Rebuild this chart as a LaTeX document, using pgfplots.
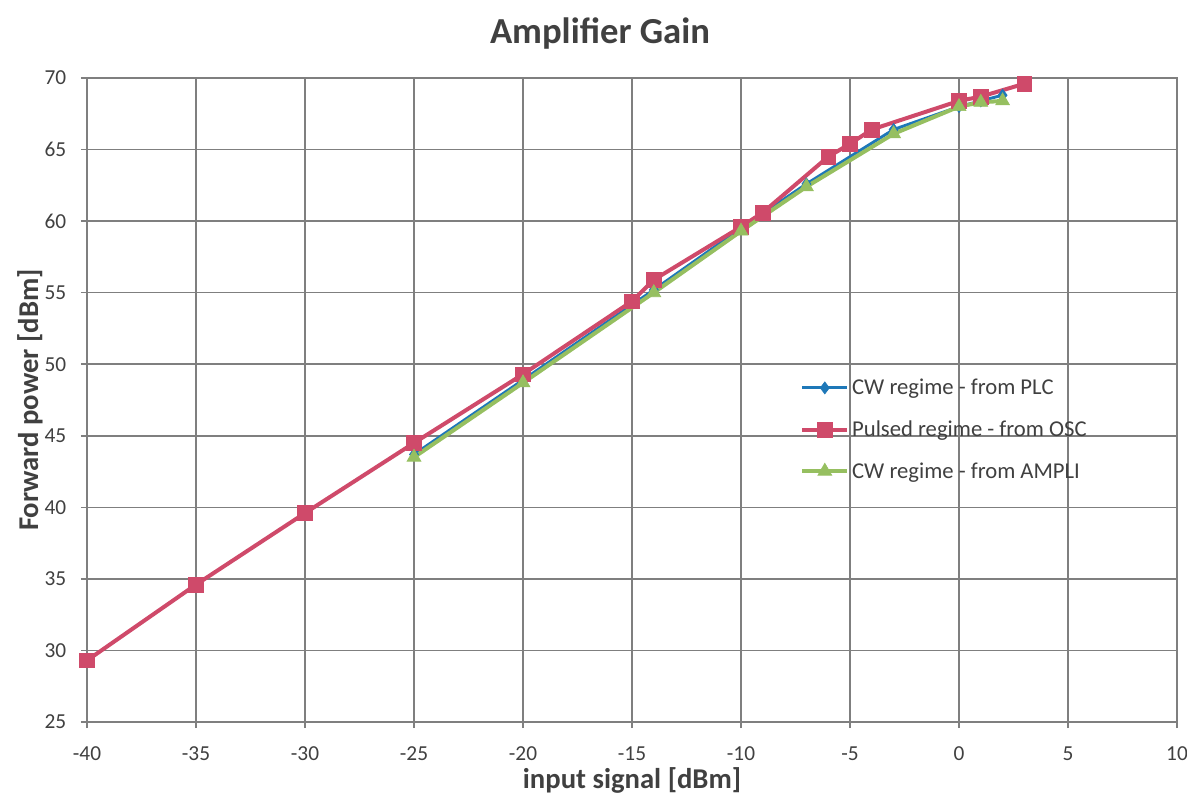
\documentclass[border=0pt]{standalone}
\usepackage{pgfplots}
\pgfplotsset{compat=1.18}
\usepackage{fontspec}
\setmainfont{Carlito}
\definecolor{cwblue}{HTML}{1E78B8}
\definecolor{pulred}{HTML}{CF4A6A}
\definecolor{ampgreen}{HTML}{96BF60}
\definecolor{txtgray}{HTML}{404040}
\definecolor{gridgray}{HTML}{7F7F7F}
\begin{document}
\begin{tikzpicture}
\useasboundingbox (-65.25pt,-55.5pt) rectangle (825pt,541.5pt);
\begin{axis}[
  at={(0,0)}, anchor=south west,
  scale only axis, width=817.5pt, height=483pt,
  xmin=-40, xmax=10, ymin=25, ymax=70,
  xtick={-40,-35,...,10}, ytick={25,30,...,70},
  grid=major,
  major grid style={gridgray, line width=1.1pt},
  axis line style={gridgray, line width=1.1pt},
  tick align=outside, major tick length=4.5pt,
  tick style={gridgray, line width=1.1pt},
  xtick pos=bottom, ytick pos=left,
  /pgf/number format/assume math mode=true,
  tick label style={font=\fontsize{16}{18}\selectfont, text=txtgray},
  xticklabel style={anchor=center, yshift=-19.5pt},
  yticklabel style={anchor=east, xshift=-7.5pt},
  xlabel={input signal [dBm]},
  ylabel={Forward power [dBm]},
  label style={font=\fontsize{21.5}{24}\selectfont\bfseries, text=txtgray, inner sep=0pt},
  xlabel style={at={(rel axis cs:0.5,0)}, anchor=center, yshift=-44pt},
  ylabel style={at={(rel axis cs:0,0.5)}, anchor=center, yshift=42.75pt},
  legend style={draw=none, fill=none, at={(rel axis cs:0.654,0.537)}, anchor=north west,
    font=\fontsize{17}{20}\selectfont, text=txtgray, row sep=14pt, inner sep=0pt,
    /tikz/every even column/.append style={column sep=0pt}},
  legend cell align=left,
  legend image code/.code={
    \draw[#1] (0pt,0pt) -- (34pt,0pt);
    \draw[#1, mark repeat=2, mark phase=2] plot coordinates {(0pt,0pt) (17pt,0pt) (34pt,0pt)};
  },
  clip=false,
]
\addplot[cwblue, line width=2.2pt, mark=diamond*, mark size=4.5pt, mark options={fill=cwblue, line width=0.5pt}]
coordinates {(-25,43.7) (-20,48.9) (-14,55.2) (-10,59.5) (-7,62.6) (-3,66.4) (0,68.0) (1,68.4) (2,68.8)};
\addlegendentry{CW regime - from PLC}
\addplot[pulred, line width=3pt, mark=square*, mark size=5.5pt, mark options={fill=pulred, line width=0.5pt}]
coordinates {(-40,29.3) (-35,34.6) (-30,39.6) (-25,44.5) (-20,49.3) (-15,54.4) (-14,55.9) (-10,59.6) (-9,60.6) (-6,64.5) (-5,65.4) (-4,66.4) (0,68.4) (1,68.7) (3,69.6)};
\addlegendentry{Pulsed regime - from OSC}
\addplot[ampgreen, line width=3pt, mark=triangle*, mark size=6pt, mark options={fill=ampgreen, line width=0.5pt}]
coordinates {(-25,43.5) (-20,48.7) (-14,55.0) (-10,59.3) (-7,62.4) (-3,66.1) (0,68.0) (1,68.3) (2,68.4)};
\addlegendentry{CW regime - from AMPLI}
\end{axis}
\node[font=\fontsize{27.5}{30}\selectfont\bfseries, text=txtgray] at (384.75pt,516pt) {Amplifier Gain};
\end{tikzpicture}
\end{document}
